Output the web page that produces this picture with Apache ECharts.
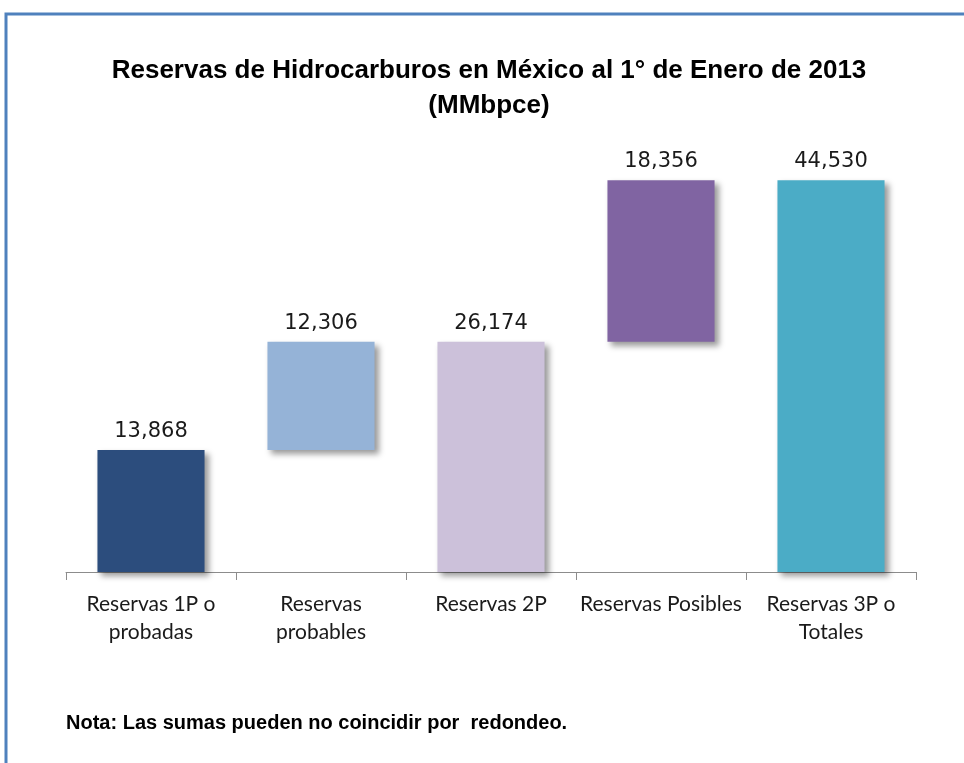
<!DOCTYPE html>
<html>
<head>
<meta charset="utf-8">
<script src="https://cdn.jsdelivr.net/npm/echarts@6/dist/echarts.min.js"></script>
<style>html,body{margin:0;padding:0;background:#fff}#c{width:964px;height:763px}</style>
</head>
<body>
<div id="c"></div>
<script>
var categories = ['Reservas 1P o\nprobadas', 'Reservas\nprobables', 'Reservas 2P', 'Reservas Posibles', 'Reservas 3P o\nTotales'];
var values = [13868, 12306, 26174, 18356, 44530];
var bases = [0, 13868, 0, 26174, 0];
var colors = ['#2C4D7D', '#95B3D7', '#CCC1DA', '#8064A2', '#4BACC6'];

var chart = echarts.init(document.getElementById('c'));
chart.setOption({
  animation: false,
  title: [
    { text: 'Reservas de Hidrocarburos en México al 1° de Enero de 2013\n(MMbpce)', left: 484, top: 48, textAlign: 'center',
      textStyle: { fontFamily: 'Liberation Sans', fontWeight: 'bold', fontSize: 26, lineHeight: 35, color: '#000' } },
    { text: 'Nota: Las sumas pueden no coincidir por  redondeo.', left: 61, top: 708,
      textStyle: { fontFamily: 'Liberation Sans', fontWeight: 'bold', fontSize: 20, color: '#000' } }
  ],
  graphic: [
    { type: 'polyline', shape: { points: [[6, 763], [6, 14], [964, 14]] },
      style: { stroke: '#4F81BD', lineWidth: 3, fill: null } }
  ],
  grid: { left: 66, right: 48, top: 132, bottom: 191 },
  xAxis: {
    type: 'category', data: categories, boundaryGap: true,
    axisLine: { lineStyle: { color: '#8c8c8c', width: 1 } },
    axisTick: { show: true, length: 8, alignWithLabel: false, lineStyle: { color: '#8c8c8c' } },
    axisLabel: { interval: 0, margin: 18, fontFamily: 'Lato', fontSize: 21, lineHeight: 28, color: '#1a1a1a' }
  },
  yAxis: { type: 'value', min: 0, max: 50000, show: false, splitLine: { show: false } },
  series: [
    { type: 'bar', stack: 'w', data: bases, barWidth: '63%', itemStyle: { color: 'transparent' }, silent: true },
    { type: 'bar', stack: 'w', barWidth: '63%',
      data: values.map(function (v, i) {
        return { value: v, itemStyle: { color: colors[i] } };
      }),
      itemStyle: { shadowColor: 'rgba(0,0,0,0.4)', shadowBlur: 6, shadowOffsetX: 4, shadowOffsetY: 4 },
      label: { show: true, position: 'top', distance: 8, fontFamily: 'DejaVu Sans', fontSize: 21, color: '#1a1a1a',
        formatter: function (p) { return values[p.dataIndex].toLocaleString('en-US'); } }
    }
  ]
});
</script>
</body>
</html>
